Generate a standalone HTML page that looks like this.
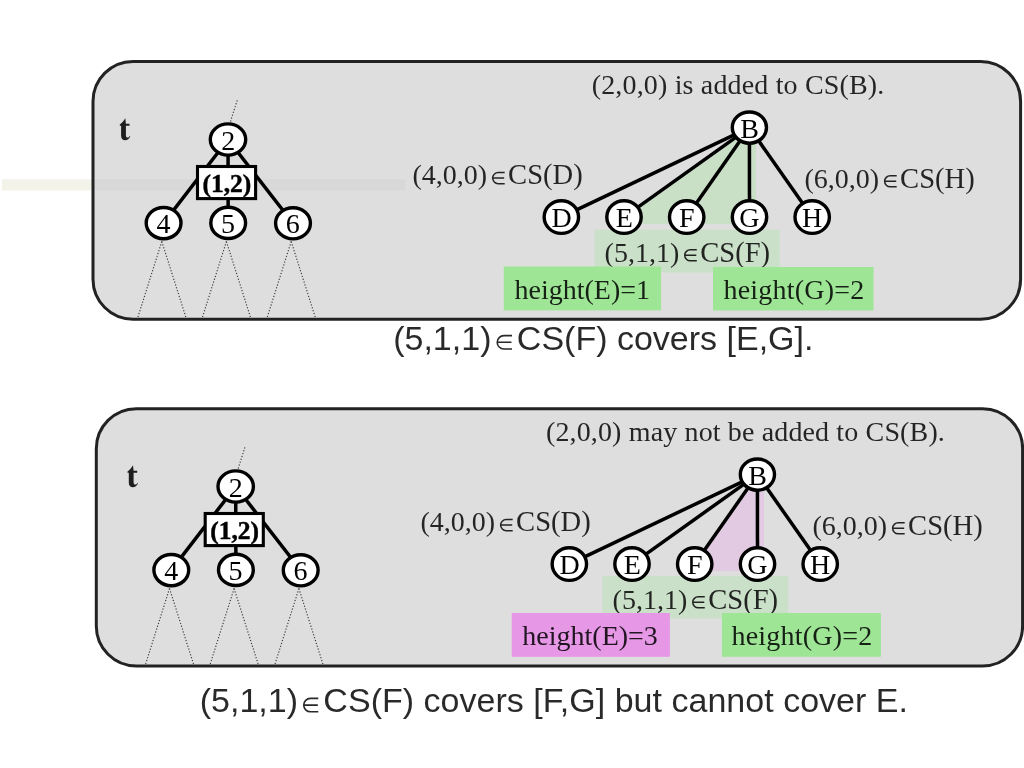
<!DOCTYPE html>
<html><head><meta charset="utf-8"><title>CS covers</title>
<style>
html,body{margin:0;padding:0;background:#fff;}
body{width:1024px;height:768px;overflow:hidden;font-family:"Liberation Serif", serif;}
svg{display:block;will-change:transform;}
</style></head>
<body>
<svg width="1024" height="768" viewBox="0 0 1024 768">
<rect width="1024" height="768" fill="#fff"/>
<rect x="2" y="179.3" width="100" height="11.2" fill="#f3f3ea"/>
<rect x="93" y="61.4" width="927.6" height="257.8" rx="40" ry="40" fill="#dedede" stroke="#222" stroke-width="3"/>
<rect x="94.5" y="179.3" width="311" height="11.2" fill="rgba(0,0,0,0.022)"/>
<g transform="translate(0,0)">
<path d="M125.3,118.2 L125.9,123.7 L129.5,123.7 L129.5,125.7 L125.9,125.7 L125.9,135.0 C125.9,136.9 126.6,137.6 127.5,137.6 C128.4,137.6 129.1,137.0 129.7,136.0 L130.3,136.5 C129.1,138.9 127.4,140.3 125.2,140.3 C122.6,140.3 121.1,138.7 121.1,135.8 L121.1,125.7 L119.8,125.7 L119.8,124.5 C121.9,123.0 123.9,120.8 125.3,118.2 Z" fill="#1e1e1e"/>
<line x1="230.5" y1="121.5" x2="237.6" y2="99" stroke="#3a3a3a" stroke-width="1.15" stroke-dasharray="1.2 1.8"/>
<line x1="161.79999999999998" y1="241.5" x2="137.24679999999998" y2="319.2" stroke="#3a3a3a" stroke-width="1.15" stroke-dasharray="1.2 1.8"/>
<line x1="161.79999999999998" y1="241.5" x2="186.50859999999997" y2="319.2" stroke="#3a3a3a" stroke-width="1.15" stroke-dasharray="1.2 1.8"/>
<line x1="226.39999999999998" y1="241.5" x2="201.84679999999997" y2="319.2" stroke="#3a3a3a" stroke-width="1.15" stroke-dasharray="1.2 1.8"/>
<line x1="226.39999999999998" y1="241.5" x2="251.10859999999997" y2="319.2" stroke="#3a3a3a" stroke-width="1.15" stroke-dasharray="1.2 1.8"/>
<line x1="291.2" y1="241.5" x2="266.6468" y2="319.2" stroke="#3a3a3a" stroke-width="1.15" stroke-dasharray="1.2 1.8"/>
<line x1="291.2" y1="241.5" x2="315.9086" y2="319.2" stroke="#3a3a3a" stroke-width="1.15" stroke-dasharray="1.2 1.8"/>
<line x1="228" y1="139.5" x2="163.6" y2="223.1" stroke="#000" stroke-width="3.5"/>
<line x1="228" y1="139.5" x2="228.2" y2="222.9" stroke="#000" stroke-width="3.5"/>
<line x1="228" y1="139.5" x2="293" y2="223.3" stroke="#000" stroke-width="3.5"/>
<rect x="197.5" y="166.5" width="58.1" height="32.1" fill="#fff" stroke="#000" stroke-width="3.1"/>
<text x="202.48" y="191.80" font-family='"Liberation Serif", serif' font-weight="bold" font-size="25.5" fill="#000" stroke="#000" stroke-width="0.45">(1,2)</text>
<ellipse cx="228" cy="139.5" rx="17.7" ry="15.6" fill="#fff" stroke="#000" stroke-width="3.4"/><text x="221.16" y="149.50" font-family='"Liberation Serif", serif' font-weight="normal" font-size="28" fill="#000">2</text>
<ellipse cx="163.6" cy="223.1" rx="17.4" ry="15.6" fill="#fff" stroke="#000" stroke-width="3.4"/><text x="156.55" y="233.10" font-family='"Liberation Serif", serif' font-weight="normal" font-size="28" fill="#000">4</text>
<ellipse cx="228.2" cy="222.9" rx="17.4" ry="15.6" fill="#fff" stroke="#000" stroke-width="3.4"/><text x="220.93" y="232.90" font-family='"Liberation Serif", serif' font-weight="normal" font-size="28" fill="#000">5</text>
<ellipse cx="293" cy="223.3" rx="17.4" ry="15.6" fill="#fff" stroke="#000" stroke-width="3.4"/><text x="285.82" y="233.30" font-family='"Liberation Serif", serif' font-weight="normal" font-size="28" fill="#000">6</text>
</g>
<text x="591.67" y="93.80" font-family='"Liberation Serif", serif' font-weight="normal" font-size="28" fill="rgba(0,0,0,0.84)" textLength="292.68" lengthAdjust="spacing">(2,0,0) is added to CS(B).</text>
<rect x="594.6" y="229.7" width="185.2" height="42.8" fill="#cbe0c9"/>
<g transform="translate(0,0)">
<polygon points="749.4,127.6 624,217.1 624,224 756,224 756,127.6" fill="#c9e0c7"/>
<line x1="749.4" y1="127.6" x2="561.35" y2="217.1" stroke="#000" stroke-width="3.5"/>
<line x1="749.4" y1="127.6" x2="624" y2="217.1" stroke="#000" stroke-width="3.5"/>
<line x1="749.4" y1="127.6" x2="686.7" y2="217.1" stroke="#000" stroke-width="3.5"/>
<line x1="749.4" y1="127.6" x2="749.5" y2="217.1" stroke="#000" stroke-width="3.5"/>
<line x1="749.4" y1="127.6" x2="812.2" y2="217.1" stroke="#000" stroke-width="3.5"/>
<ellipse cx="749.4" cy="127.6" rx="17.1" ry="15.6" fill="#fff" stroke="#000" stroke-width="3.4"/><text x="740.34" y="137.60" font-family='"Liberation Serif", serif' font-weight="normal" font-size="28" fill="#000">B</text>
<ellipse cx="561.35" cy="217.1" rx="17.2" ry="16.3" fill="#fff" stroke="#000" stroke-width="3.4"/><text x="551.40" y="227.10" font-family='"Liberation Serif", serif' font-weight="normal" font-size="28" fill="#000">D</text>
<ellipse cx="624" cy="217.1" rx="17.2" ry="16.3" fill="#fff" stroke="#000" stroke-width="3.4"/><text x="615.74" y="227.10" font-family='"Liberation Serif", serif' font-weight="normal" font-size="28" fill="#000">E</text>
<ellipse cx="686.7" cy="217.1" rx="17.2" ry="16.3" fill="#fff" stroke="#000" stroke-width="3.4"/><text x="679.02" y="227.10" font-family='"Liberation Serif", serif' font-weight="normal" font-size="28" fill="#000">F</text>
<ellipse cx="749.5" cy="217.1" rx="17.2" ry="16.3" fill="#fff" stroke="#000" stroke-width="3.4"/><text x="739.25" y="227.10" font-family='"Liberation Serif", serif' font-weight="normal" font-size="28" fill="#000">G</text>
<ellipse cx="812.2" cy="217.1" rx="17.2" ry="16.3" fill="#fff" stroke="#000" stroke-width="3.4"/><text x="802.10" y="227.10" font-family='"Liberation Serif", serif' font-weight="normal" font-size="28" fill="#000">H</text>
</g>
<text x="412.47" y="184.40" font-family='"Liberation Serif", serif' font-weight="normal" font-size="28" fill="rgba(0,0,0,0.84)">(4,0,0)</text><path d="M504.69,172.55 H498.19 A5.55,5.55 0 0 0 498.19,183.65 H504.69 M492.64,178.10 H504.19" fill="none" stroke="rgba(0,0,0,0.84)" stroke-width="1.5"/><text x="508.11" y="184.40" font-family='"Liberation Serif", serif' font-weight="normal" font-size="28.6" fill="rgba(0,0,0,0.84)">CS(D)</text>
<text x="804.47" y="187.60" font-family='"Liberation Serif", serif' font-weight="normal" font-size="28" fill="rgba(0,0,0,0.84)">(6,0,0)</text><path d="M896.69,175.75 H890.19 A5.55,5.55 0 0 0 890.19,186.85 H896.69 M884.64,181.30 H896.19" fill="none" stroke="rgba(0,0,0,0.84)" stroke-width="1.5"/><text x="900.11" y="187.60" font-family='"Liberation Serif", serif' font-weight="normal" font-size="28.6" fill="rgba(0,0,0,0.84)">CS(H)</text>
<text x="604.57" y="261.60" font-family='"Liberation Serif", serif' font-weight="normal" font-size="28" fill="rgba(0,0,0,0.84)">(5,1,1)</text><path d="M696.79,249.75 H690.29 A5.55,5.55 0 0 0 690.29,260.85 H696.79 M684.74,255.30 H696.29" fill="none" stroke="rgba(0,0,0,0.84)" stroke-width="1.5"/><text x="700.21" y="261.60" font-family='"Liberation Serif", serif' font-weight="normal" font-size="28.6" fill="rgba(0,0,0,0.84)">CS(F)</text>
<rect x="503.8" y="266.5" width="157.3" height="43.9" fill="#9ee696"/>
<text x="514.53" y="298.60" font-family='"Liberation Serif", serif' font-weight="normal" font-size="28" fill="rgba(0,0,0,0.86)">height(E)=1</text>
<rect x="713" y="267" width="160.5" height="43.5" fill="#9ee696"/>
<text x="723.43" y="298.60" font-family='"Liberation Serif", serif' font-weight="normal" font-size="28" fill="rgba(0,0,0,0.86)" textLength="140.82" lengthAdjust="spacing">height(G)=2</text>
<text x="393.19" y="349.80" font-family='"Liberation Sans", sans-serif' font-weight="normal" font-size="34" fill="rgba(0,0,0,0.84)">(5,1,1)</text>
<path d="M512.00,335.60 H503.90 A6.70,6.70 0 0 0 503.90,349.00 H512.00 M497.20,342.30 H511.50" fill="none" stroke="rgba(0,0,0,0.84)" stroke-width="1.6"/>
<text x="516.87" y="349.80" font-family='"Liberation Sans", sans-serif' font-weight="normal" font-size="34" fill="rgba(0,0,0,0.84)">CS(F) covers [E,G].</text>
<rect x="96.3" y="408.7" width="926.3" height="257.3" rx="40" ry="40" fill="#dedede" stroke="#222" stroke-width="3"/>
<g transform="translate(7.7,347)">
<path d="M125.3,118.2 L125.9,123.7 L129.5,123.7 L129.5,125.7 L125.9,125.7 L125.9,135.0 C125.9,136.9 126.6,137.6 127.5,137.6 C128.4,137.6 129.1,137.0 129.7,136.0 L130.3,136.5 C129.1,138.9 127.4,140.3 125.2,140.3 C122.6,140.3 121.1,138.7 121.1,135.8 L121.1,125.7 L119.8,125.7 L119.8,124.5 C121.9,123.0 123.9,120.8 125.3,118.2 Z" fill="#1e1e1e"/>
<line x1="230.5" y1="121.5" x2="237.6" y2="99" stroke="#3a3a3a" stroke-width="1.15" stroke-dasharray="1.2 1.8"/>
<line x1="161.79999999999998" y1="241.5" x2="137.30999999999997" y2="319" stroke="#3a3a3a" stroke-width="1.15" stroke-dasharray="1.2 1.8"/>
<line x1="161.79999999999998" y1="241.5" x2="186.445" y2="319" stroke="#3a3a3a" stroke-width="1.15" stroke-dasharray="1.2 1.8"/>
<line x1="226.39999999999998" y1="241.5" x2="201.90999999999997" y2="319" stroke="#3a3a3a" stroke-width="1.15" stroke-dasharray="1.2 1.8"/>
<line x1="226.39999999999998" y1="241.5" x2="251.045" y2="319" stroke="#3a3a3a" stroke-width="1.15" stroke-dasharray="1.2 1.8"/>
<line x1="291.2" y1="241.5" x2="266.71" y2="319" stroke="#3a3a3a" stroke-width="1.15" stroke-dasharray="1.2 1.8"/>
<line x1="291.2" y1="241.5" x2="315.84499999999997" y2="319" stroke="#3a3a3a" stroke-width="1.15" stroke-dasharray="1.2 1.8"/>
<line x1="228" y1="139.5" x2="163.6" y2="223.1" stroke="#000" stroke-width="3.5"/>
<line x1="228" y1="139.5" x2="228.2" y2="222.9" stroke="#000" stroke-width="3.5"/>
<line x1="228" y1="139.5" x2="293" y2="223.3" stroke="#000" stroke-width="3.5"/>
<rect x="197.5" y="166.5" width="58.1" height="32.1" fill="#fff" stroke="#000" stroke-width="3.1"/>
<text x="202.48" y="191.80" font-family='"Liberation Serif", serif' font-weight="bold" font-size="25.5" fill="#000" stroke="#000" stroke-width="0.45">(1,2)</text>
<ellipse cx="228" cy="139.5" rx="17.7" ry="15.6" fill="#fff" stroke="#000" stroke-width="3.4"/><text x="221.16" y="149.50" font-family='"Liberation Serif", serif' font-weight="normal" font-size="28" fill="#000">2</text>
<ellipse cx="163.6" cy="223.1" rx="17.4" ry="15.6" fill="#fff" stroke="#000" stroke-width="3.4"/><text x="156.55" y="233.10" font-family='"Liberation Serif", serif' font-weight="normal" font-size="28" fill="#000">4</text>
<ellipse cx="228.2" cy="222.9" rx="17.4" ry="15.6" fill="#fff" stroke="#000" stroke-width="3.4"/><text x="220.93" y="232.90" font-family='"Liberation Serif", serif' font-weight="normal" font-size="28" fill="#000">5</text>
<ellipse cx="293" cy="223.3" rx="17.4" ry="15.6" fill="#fff" stroke="#000" stroke-width="3.4"/><text x="285.82" y="233.30" font-family='"Liberation Serif", serif' font-weight="normal" font-size="28" fill="#000">6</text>
</g>
<text x="545.97" y="441.00" font-family='"Liberation Serif", serif' font-weight="normal" font-size="28" fill="rgba(0,0,0,0.84)" textLength="398.88" lengthAdjust="spacing">(2,0,0) may not be added to CS(B).</text>
<rect x="602.3" y="575.9" width="186" height="42.8" fill="#cbe0c9"/>
<g transform="translate(8,347)">
<polygon points="749.4,127.6 686.7,217.1 686.7,224 756,224 756,127.6" fill="#e1cae2"/>
<line x1="749.4" y1="127.6" x2="561.35" y2="217.1" stroke="#000" stroke-width="3.5"/>
<line x1="749.4" y1="127.6" x2="624" y2="217.1" stroke="#000" stroke-width="3.5"/>
<line x1="749.4" y1="127.6" x2="686.7" y2="217.1" stroke="#000" stroke-width="3.5"/>
<line x1="749.4" y1="127.6" x2="749.5" y2="217.1" stroke="#000" stroke-width="3.5"/>
<line x1="749.4" y1="127.6" x2="812.2" y2="217.1" stroke="#000" stroke-width="3.5"/>
<ellipse cx="749.4" cy="127.6" rx="17.1" ry="15.6" fill="#fff" stroke="#000" stroke-width="3.4"/><text x="740.34" y="137.60" font-family='"Liberation Serif", serif' font-weight="normal" font-size="28" fill="#000">B</text>
<ellipse cx="561.35" cy="217.1" rx="17.2" ry="16.3" fill="#fff" stroke="#000" stroke-width="3.4"/><text x="551.40" y="227.10" font-family='"Liberation Serif", serif' font-weight="normal" font-size="28" fill="#000">D</text>
<ellipse cx="624" cy="217.1" rx="17.2" ry="16.3" fill="#fff" stroke="#000" stroke-width="3.4"/><text x="615.74" y="227.10" font-family='"Liberation Serif", serif' font-weight="normal" font-size="28" fill="#000">E</text>
<ellipse cx="686.7" cy="217.1" rx="17.2" ry="16.3" fill="#fff" stroke="#000" stroke-width="3.4"/><text x="679.02" y="227.10" font-family='"Liberation Serif", serif' font-weight="normal" font-size="28" fill="#000">F</text>
<ellipse cx="749.5" cy="217.1" rx="17.2" ry="16.3" fill="#fff" stroke="#000" stroke-width="3.4"/><text x="739.25" y="227.10" font-family='"Liberation Serif", serif' font-weight="normal" font-size="28" fill="#000">G</text>
<ellipse cx="812.2" cy="217.1" rx="17.2" ry="16.3" fill="#fff" stroke="#000" stroke-width="3.4"/><text x="802.10" y="227.10" font-family='"Liberation Serif", serif' font-weight="normal" font-size="28" fill="#000">H</text>
</g>
<text x="420.47" y="531.40" font-family='"Liberation Serif", serif' font-weight="normal" font-size="28" fill="rgba(0,0,0,0.84)">(4,0,0)</text><path d="M512.69,519.55 H506.19 A5.55,5.55 0 0 0 506.19,530.65 H512.69 M500.64,525.10 H512.19" fill="none" stroke="rgba(0,0,0,0.84)" stroke-width="1.5"/><text x="516.11" y="531.40" font-family='"Liberation Serif", serif' font-weight="normal" font-size="28.6" fill="rgba(0,0,0,0.84)">CS(D)</text>
<text x="812.47" y="534.60" font-family='"Liberation Serif", serif' font-weight="normal" font-size="28" fill="rgba(0,0,0,0.84)">(6,0,0)</text><path d="M904.69,522.75 H898.19 A5.55,5.55 0 0 0 898.19,533.85 H904.69 M892.64,528.30 H904.19" fill="none" stroke="rgba(0,0,0,0.84)" stroke-width="1.5"/><text x="908.11" y="534.60" font-family='"Liberation Serif", serif' font-weight="normal" font-size="28.6" fill="rgba(0,0,0,0.84)">CS(H)</text>
<text x="612.57" y="608.60" font-family='"Liberation Serif", serif' font-weight="normal" font-size="28" fill="rgba(0,0,0,0.84)">(5,1,1)</text><path d="M704.79,596.75 H698.29 A5.55,5.55 0 0 0 698.29,607.85 H704.79 M692.74,602.30 H704.29" fill="none" stroke="rgba(0,0,0,0.84)" stroke-width="1.5"/><text x="708.21" y="608.60" font-family='"Liberation Serif", serif' font-weight="normal" font-size="28.6" fill="rgba(0,0,0,0.84)">CS(F)</text>
<rect x="511.7" y="613" width="158.2" height="43.8" fill="#e697e6"/>
<text x="522.33" y="645.30" font-family='"Liberation Serif", serif' font-weight="normal" font-size="28" fill="rgba(0,0,0,0.86)">height(E)=3</text>
<rect x="721.9" y="613" width="159" height="43.8" fill="#9ee696"/>
<text x="731.43" y="645.30" font-family='"Liberation Serif", serif' font-weight="normal" font-size="28" fill="rgba(0,0,0,0.86)" textLength="140.82" lengthAdjust="spacing">height(G)=2</text>
<text x="199.79" y="712.40" font-family='"Liberation Sans", sans-serif' font-weight="normal" font-size="34" fill="rgba(0,0,0,0.84)">(5,1,1)</text>
<path d="M318.30,698.40 H310.40 A6.70,6.70 0 0 0 310.40,711.80 H318.30 M303.70,705.10 H317.80" fill="none" stroke="rgba(0,0,0,0.84)" stroke-width="1.6"/>
<text x="323.37" y="712.40" font-family='"Liberation Sans", sans-serif' font-weight="normal" font-size="34" fill="rgba(0,0,0,0.84)" textLength="584.63" lengthAdjust="spacing">CS(F) covers [F,G] but cannot cover E.</text>
</svg>
</body></html>
